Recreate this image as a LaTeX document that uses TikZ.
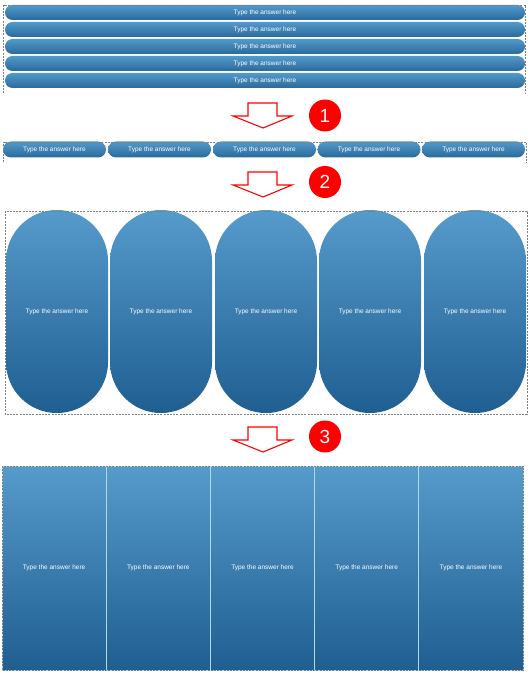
\documentclass[tikz,border=0pt]{standalone}
\usepackage{fontspec}
\setmainfont{Liberation Sans}
\definecolor{bluetop}{HTML}{559BCB}
\definecolor{bluebot}{HTML}{1F5E91}
\definecolor{bartop}{HTML}{5299CB}
\definecolor{barbot}{HTML}{2A6A9B}
\definecolor{sepblue}{HTML}{B5D8F2}
\definecolor{dashgray}{HTML}{7F7F7F}
\tikzset{
  lbl/.style={text=white,font=\fontsize{6.5}{7}\selectfont,inner sep=0pt},
  bar/.style={lbl,minimum width=520pt,minimum height=15pt,rounded corners=7.5pt,
    top color=bartop,bottom color=barbot,draw=none},
  pill/.style={lbl,minimum width=103pt,minimum height=16pt,rounded corners=8pt,
    top color=bartop,bottom color=barbot,draw=none},
  stadium/.style={lbl,minimum width=102pt,minimum height=203pt,rounded corners=50.9pt,
    top color=bluetop,bottom color=bluebot,draw=none},
  column/.style={lbl,minimum width=104.2pt,minimum height=204pt,
    top color=bluetop,bottom color=bluebot,draw=sepblue,line width=0.9pt},
  dashbox/.style={draw=dashgray,dashed,dash pattern=on 2pt off 1.2pt,line width=0.6pt},
  downarrow/.style={draw=red,fill=white,line width=1.1pt,line join=miter},
  badge/.style={circle,fill=red,text=white,minimum size=32pt,inner sep=0pt,
    font=\fontsize{19}{19}\selectfont}
}
\begin{document}
\begin{tikzpicture}[x=1pt,y=-1pt]
\useasboundingbox (0,0) rectangle (531,676);
% section 1
\foreach \i/\yy in {1/12.5,2/29.5,3/46.5,4/63.5,5/80.5}
  \node[bar] (b\i) at (265,\yy) {Type the answer here};
\draw[dashbox] (3.5,93) -- (3.5,5) -- (525.5,5) -- (525.5,93);
% arrow 1
\draw[downarrow] (248,103) -- (277,103) -- (277,116) -- (292,116) -- (263,128) -- (233,116) -- (248,116) -- cycle;
\node[badge] (n1) at (325,115.5) {1};
% section 2
\foreach \i/\xx in {1/54.5,2/159.5,3/264.5,4/369,5/473.5}
  \node[pill] (p\i) at (\xx,149.5) {Type the answer here};
\draw[dashbox] (3.5,162.5) -- (3.5,142) -- (526,142) -- (526,163);
% arrow 2
\draw[downarrow] (248,172) -- (277,172) -- (277,185) -- (292,185) -- (263,197) -- (233,185) -- (248,185) -- cycle;
\node[badge] (n2) at (325,182) {2};
% section 3
\foreach \i/\xx in {1/57,2/161,3/266,4/370,5/475}
  \node[stadium] (s\i) at (\xx,311.5) {Type the answer here};
\draw[dashbox] (5,211) rectangle (527,414);
% arrow 3
\draw[downarrow] (248,427) -- (277,427) -- (277,440) -- (292,440) -- (263,452) -- (233,440) -- (248,440) -- cycle;
\node[badge] (n3) at (325,436.5) {3};
% section 4
\foreach \i/\xx in {1/54.1,2/158.3,3/262.5,4/366.7,5/470.9}
  \node[column] (c\i) at (\xx,568) {Type the answer here};
\draw[dashbox] (2,466) rectangle (523,670);
\end{tikzpicture}
\end{document}
